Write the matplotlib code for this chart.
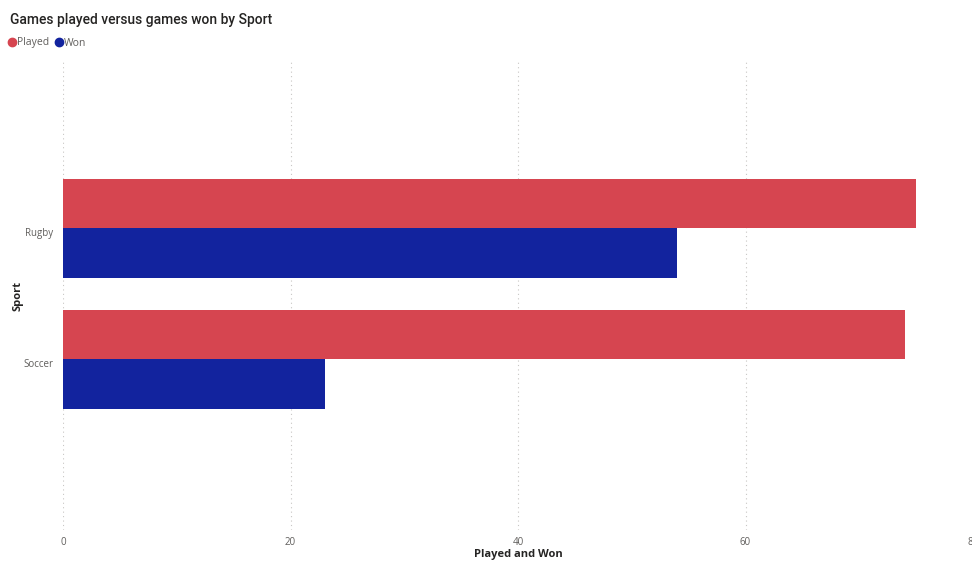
import matplotlib
matplotlib.use("Agg")
import matplotlib.pyplot as plt
from matplotlib.lines import Line2D
import numpy as np

plt.rcParams['font.family'] = ['Open Sans', 'DejaVu Sans']

sports = ["Rugby", "Soccer"]
played = [75, 74]
won = [54, 23]
x_ticks = [0, 20, 40, 60, 80]

played_color = "#D64550"
won_color = "#12239E"
text_gray = "#605E5C"
title_color = "#252423"

W, H = 972, 561
fig = plt.figure(figsize=(W / 100, H / 100), dpi=100)
ax = fig.add_axes([63 / W, 1 - 530 / H, 910 / W, 470 / H])

pos = np.array([1.0, 0.0])  # Rugby on top
bh = 0.378
ax.barh(pos + bh / 2, played, height=bh, color=played_color, zorder=3)
ax.barh(pos - bh / 2, won, height=bh, color=won_color, zorder=3)

ax.set_xlim(0, 80)
ax.set_ylim(-1.305, 2.283)
ax.set_yticks(pos)
ax.set_yticklabels(sports)
ax.set_xticks(x_ticks)
ax.set_xticklabels([str(v) for v in x_ticks])
ax.tick_params(axis='both', length=0, colors=text_gray, labelsize=7)
ax.tick_params(axis='x', pad=5)
ax.tick_params(axis='y', pad=7)
for lbl in ax.get_yticklabels():
    lbl.set_va('top')
    lbl.set_y(lbl.get_position()[1])
ax.set_yticks(pos + 0.0)
for s in ax.spines.values():
    s.set_visible(False)
ax.grid(axis='x', linestyle=(0, (1, 3)), color="#C8C6C4", linewidth=0.8, zorder=0)
ax.grid(axis='y', visible=False)

fig.text((63 + 910 * 40 / 80) / W, 1 - 554 / H, "Played and Won", fontsize=8,
         fontweight='bold', color=title_color, ha='center', va='center')
fig.text(18 / W, 1 - 296 / H, "Sport", rotation=90, fontsize=8, fontweight='bold',
         color=title_color, ha='center', va='center')

fig.text(10 / W, 1 - 20 / H, "Games played versus games won by Sport", fontsize=10,
         fontweight='medium', family=['Roboto', 'DejaVu Sans'], color=title_color,
         ha='left', va='center')

handles = [Line2D([], [], marker='o', linestyle='none', markersize=6, color=played_color),
           Line2D([], [], marker='o', linestyle='none', markersize=6, color=won_color)]
leg = fig.legend(handles, ["Played", "Won"], loc='center left',
                 bbox_to_anchor=(9 / W, 1 - 43 / H), ncol=2, frameon=False,
                 fontsize=7.5, handlelength=0.6, handletextpad=0.2, columnspacing=0.6,
                 borderaxespad=0, borderpad=0)
for t in leg.get_texts():
    t.set_color(text_gray)

fig.savefig("out.png", dpi=100)
